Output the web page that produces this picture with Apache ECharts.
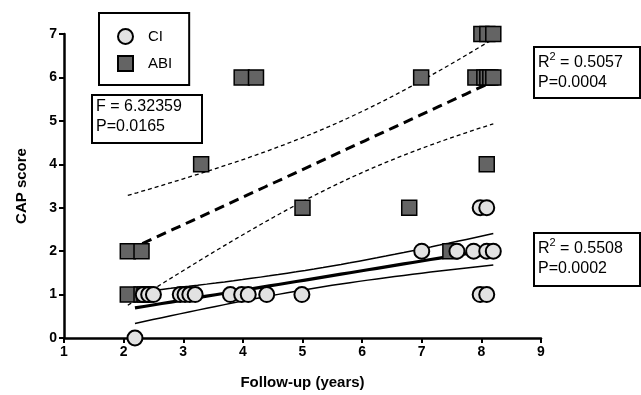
<!DOCTYPE html>
<html>
<head>
<meta charset="utf-8">
<script src="https://cdn.jsdelivr.net/npm/echarts@6/dist/echarts.min.js"></script>
<style>
    html, body { margin: 0; padding: 0; background: #fff; }
    #chart { width: 641px; height: 395px; }
</style>
</head>
<body>
<div id="chart"></div>
<script>
    // CI group
    var ciYears = [2.19, 2.33, 2.42, 2.5, 2.95, 3.03, 3.11, 3.2, 3.79, 3.98, 4.09, 4.4, 4.99,
        7.98, 8.09, 7.0, 7.59, 7.87, 8.09, 8.2, 7.98, 8.09];
    var ciScores = [0, 1, 1, 1, 1, 1, 1, 1, 1, 1, 1, 1, 1,
        1, 1, 2, 2, 2, 2, 2, 3, 3];
    // ABI group
    var abiYears = [2.07, 2.3, 2.07, 2.3, 2.35, 3.3, 3.98, 4.22, 5.0, 6.79, 6.99, 7.48,
        8.0, 8.1, 8.2, 7.9, 8.05, 8.1, 8.15, 8.2, 8.09];
    var abiScores = [2, 2, 1, 1, 1, 4, 6, 6, 3, 3, 6, 2,
        7, 7, 7, 6, 6, 6, 6, 6, 4];

    var FONT = '"Liberation Sans", Arial, sans-serif';

    function pairs(xs, ys) {
        return xs.map(function (x, i) { return [x, ys[i]]; });
    }

    // two-sided 95% t quantile (Cornish-Fisher expansion)
    function t975(df) {
        var z = 1.959964;
        var g1 = (Math.pow(z, 3) + z) / 4;
        var g2 = (5 * Math.pow(z, 5) + 16 * Math.pow(z, 3) + 3 * z) / 96;
        var g3 = (3 * Math.pow(z, 7) + 19 * Math.pow(z, 5) + 17 * Math.pow(z, 3) - 15 * z) / 384;
        return z + g1 / df + g2 / (df * df) + g3 / (df * df * df);
    }

    // linear regression + 95% confidence band of the mean
    function regression(xs, ys) {
        var n = xs.length;
        var mx = xs.reduce(function (a, b) { return a + b; }, 0) / n;
        var my = ys.reduce(function (a, b) { return a + b; }, 0) / n;
        var sxx = 0, sxy = 0, syy = 0;
        for (var i = 0; i < n; i++) {
            sxx += (xs[i] - mx) * (xs[i] - mx);
            sxy += (xs[i] - mx) * (ys[i] - my);
            syy += (ys[i] - my) * (ys[i] - my);
        }
        var b = sxy / sxx, a = my - b * mx;
        var s = Math.sqrt((syy - b * sxy) / (n - 2));
        var t = t975(n - 2);
        var lo = Math.min.apply(null, xs), hi = Math.max.apply(null, xs);
        var mid = [], upper = [], lower = [];
        var steps = 40;
        for (var k = 0; k <= steps; k++) {
            var x = lo + (hi - lo) * k / steps;
            var y = a + b * x;
            var h = t * s * Math.sqrt(1 / n + (x - mx) * (x - mx) / sxx);
            mid.push([x, y]);
            upper.push([x, y + h]);
            lower.push([x, y - h]);
        }
        return {mid: mid, upper: upper, lower: lower};
    }

    var ciFit = regression(ciYears, ciScores);
    var abiFit = regression(abiYears, abiScores);

    function fitLine(data, width, dash) {
        return {
            type: "line",
            data: data,
            showSymbol: false,
            symbol: "none",
            silent: true,
            z: 2,
            lineStyle: {color: "#000", width: width, type: dash || "solid"},
        };
    }

    function statBox(x, y, w, h, text) {
        return [
            {
                type: "rect",
                left: x, top: y,
                shape: {width: w, height: h},
                style: {fill: "#fff", stroke: "#000", lineWidth: 2},
                z: 10,
            },
            {
                type: "text",
                left: x + 5, top: y + 5,
                z: 11,
                style: {
                    text: text,
                    fill: "#000",
                    rich: {
                        b: {fontSize: 16, fontFamily: FONT, lineHeight: 20, verticalAlign: "bottom"},
                        s: {fontSize: 11, fontFamily: FONT, lineHeight: 20, verticalAlign: "top"},
                    },
                },
            },
        ];
    }

    var chart = echarts.init(document.getElementById("chart"));
    var option = {
        animation: false,
        textStyle: {fontFamily: FONT},
        grid: {left: 64, right: 100, top: 34, bottom: 48},
        legend: {
            data: ["CI", "ABI"],
            orient: "vertical",
            left: 99,
            top: 13,
            padding: [15, 17, 13, 18],
            itemGap: 10,
            itemWidth: 15,
            itemHeight: 15,
            borderColor: "#000",
            borderWidth: 2,
            textStyle: {fontSize: 15, fontFamily: FONT, color: "#000", padding: [0, 0, 0, 10]},
        },
        xAxis: {
            type: "value",
            min: 1,
            max: 9,
            interval: 1,
            name: "Follow-up (years)",
            nameLocation: "middle",
            nameGap: 37,
            nameTextStyle: {fontSize: 15, fontWeight: "bold", color: "#000"},
            splitLine: {show: false},
            axisLine: {lineStyle: {color: "#000", width: 2.5}},
            axisTick: {lineStyle: {color: "#000", width: 2}, length: 5},
            axisLabel: {fontSize: 14, fontWeight: "bold", color: "#000", margin: 7},
        },
        yAxis: {
            type: "value",
            min: 0,
            max: 7,
            interval: 1,
            name: "CAP score",
            nameLocation: "middle",
            nameGap: 35,
            nameTextStyle: {fontSize: 15, fontWeight: "bold", color: "#000"},
            splitLine: {show: false},
            axisLine: {show: true, lineStyle: {color: "#000", width: 2.5}},
            axisTick: {show: true, lineStyle: {color: "#000", width: 2}, length: 5},
            axisLabel: {fontSize: 14, fontWeight: "bold", color: "#000", margin: 7},
        },
        series: [
            fitLine(abiFit.upper, 1.3, [4, 3]),
            fitLine(abiFit.lower, 1.3, [4, 3]),
            fitLine(abiFit.mid, 3, [10, 6]),
            fitLine(ciFit.upper, 1.5),
            fitLine(ciFit.lower, 1.5),
            fitLine(ciFit.mid, 3.2),
            {
                name: "ABI",
                type: "scatter",
                symbol: "rect",
                symbolSize: 15,
                z: 3,
                itemStyle: {color: "#646464", borderColor: "#000", borderWidth: 1.5, opacity: 1},
                data: pairs(abiYears, abiScores),
            },
            {
                name: "CI",
                type: "scatter",
                symbol: "circle",
                symbolSize: 15,
                z: 4,
                itemStyle: {color: "#e2e2e2", borderColor: "#000", borderWidth: 2, opacity: 1},
                data: pairs(ciYears, ciScores),
            },
        ],
        graphic: [].concat(
            statBox(91, 94, 110, 48, "{b|F = 6.32359}\n{b|P=0.0165}"),
            statBox(533, 46, 106, 51, "{b|R}{s|2}{b| = 0.5057}\n{b|P=0.0004}"),
            statBox(533, 232, 106, 53, "{b|R}{s|2}{b| = 0.5508}\n{b|P=0.0002}")
        ),
    };
    chart.setOption(option);
</script>
</body>
</html>
